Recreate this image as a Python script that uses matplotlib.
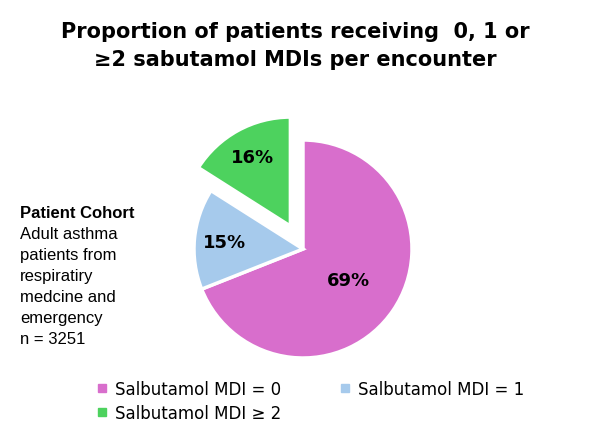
import matplotlib.pyplot as plt
from matplotlib.lines import Line2D

# data
labels = ['Salbutamol MDI = 0', 'Salbutamol MDI = 1', 'Salbutamol MDI \u2265 2']
shares = [69, 15, 16]
colors = ['#D86ECC', '#A6CAEC', '#4DD25E']
explode = [0, 0, 0.24]

title = 'Proportion of patients receiving  0, 1 or\n\u22652 sabutamol MDIs per encounter'
cohort_head = 'Patient Cohort'
cohort_body = 'Adult asthma\npatients from\nrespiratiry\nmedcine and\nemergency\nn = 3251'

W, H = 591, 439
fig = plt.figure(figsize=(W / 100, H / 100), dpi=100)
fig.patch.set_facecolor('white')

# pie axes: centre (303, 250) px from top, radius 109 px
cx, cy, r = 303, 250, 109
ax = fig.add_axes([(cx - r) / W, (H - cy - r) / H, 2 * r / W, 2 * r / H])

wedges, _, autotexts = ax.pie(
    shares, colors=colors, explode=explode, startangle=90, counterclock=False,
    autopct='%d%%', pctdistance=0.72,
    wedgeprops=dict(edgecolor='white', linewidth=2.5),
    textprops=dict(fontsize=13, fontweight='bold', color='black'))
for w in wedges:
    w.set_clip_on(False)
# the big slice has its label nearer the centre
x, y = autotexts[0].get_position()
autotexts[0].set_position((x * 0.5 / 0.72, y * 0.5 / 0.72))
ax.set_xlim(-1, 1)
ax.set_ylim(-1, 1)
ax.set_aspect('equal')
ax.axis('off')

fig.text(0.5, 1 - 46 / H, title, ha='center', va='center', fontsize=15,
         fontweight='bold', linespacing=1.55)

fig.text(20 / W, 1 - 213 / H, cohort_head, ha='left', va='center', fontsize=12,
         fontweight='bold', family='Liberation Sans')
fig.text(20 / W, 1 - 227 / H, cohort_body, ha='left', va='top', fontsize=12,
         linespacing=1.5, family='Liberation Sans')

handles = [Line2D([], [], marker='s', linestyle='none', markersize=6,
                  markerfacecolor=c, markeredgecolor=c) for c in colors]
order = [0, 2, 1]
fig.legend([handles[i] for i in order], [labels[i] for i in order],
           ncol=2, frameon=False, loc='upper left',
           bbox_to_anchor=(82 / W, 1 - 366 / H), fontsize=12,
           handlelength=0.6, handletextpad=0.5, columnspacing=3.5,
           labelspacing=0.35)

fig.savefig('out.png', dpi=100)
